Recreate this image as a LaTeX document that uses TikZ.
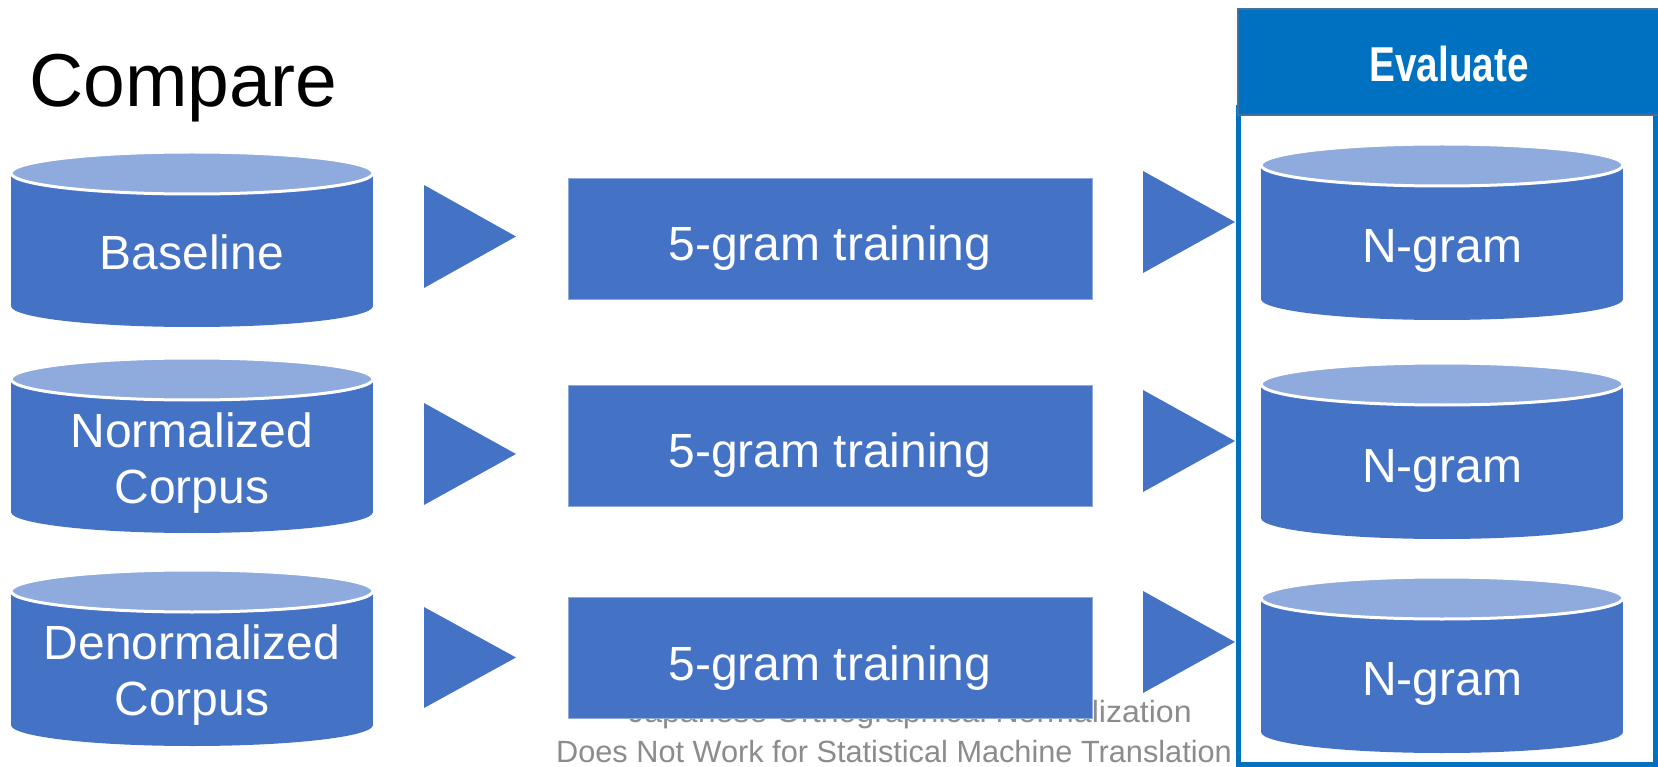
\documentclass[tikz,border=0pt]{standalone}
\usepackage{fontspec}
\setmainfont{Liberation Sans}

\definecolor{bodyblue}{HTML}{4472C4}
\definecolor{capblue}{HTML}{8FAADC}
\definecolor{evalblue}{HTML}{0070C0}
\definecolor{evaledge}{HTML}{41719C}
\definecolor{notegray}{HTML}{8C8C8C}

% database drum: centre x, top y, bottom y
\newcommand{\database}[3]{%
  \fill[bodyblue] (#1-181,#2+21) rectangle (#1+181,#3-21);
  \fill[bodyblue] (#1,#3-21) ellipse [x radius=181, y radius=21];
  \filldraw[fill=capblue, draw=white, line width=3pt] (#1,#2+21) ellipse [x radius=181, y radius=21];
}
% right-pointing triangle: left x, top y, bottom y
\newcommand{\flowtri}[3]{%
  \fill[bodyblue] (#1,#2) -- (#1+92,{(#2+#3)/2}) -- (#1,#3) -- cycle;
}

\tikzset{
  dblabel/.style={text=white, inner sep=0pt, align=center,
    font=\fontsize{48}{56}\selectfont},
  ngramlabel/.style={text=white, inner sep=0pt, font=\fontsize{48}{56}\selectfont},
  trainbox/.style={fill=bodyblue, draw=capblue, line width=0.8pt,
    minimum width=524pt, minimum height=121pt, inner sep=0pt,
    text=white, text height=44pt, text depth=0pt,
    font=\fontsize{48}{56}\selectfont},
  evalbox/.style={fill=evalblue, draw=evaledge, line width=1.5pt,
    minimum width=422pt, minimum height=106pt, inner sep=0pt,
    text=white, text height=40pt, text depth=0pt,
    font=\fontsize{49}{56}\selectfont\bfseries},
  notetext/.style={text=notegray, inner sep=0pt, align=center,
    font=\fontsize{30.7}{40}\selectfont},
}

\begin{document}
\begin{tikzpicture}[x=1pt, y=-1pt]
\useasboundingbox (0,0) rectangle (1658,767);
\fill[white] (0,0) rectangle (1658,767);

% heading
\node[anchor=base west, inner sep=0pt, font=\fontsize{75}{84}\selectfont] (title) at (29,107) {Compare};

% corpora
\database{192}{152}{327}
\database{192}{358}{533}
\database{192}{570}{746}
\node[dblabel, anchor=base] (base) at (192,270) {Baseline};
\node[dblabel] (norm) at (192,463) {Normalized\\Corpus};
\node[dblabel] (denorm) at (192,675) {Denormalized\\Corpus};

% step arrows
\flowtri{424}{185}{288}
\flowtri{424}{403}{505}
\flowtri{424}{607}{708}
\flowtri{1143}{171}{273}
\flowtri{1143}{390}{492}
\flowtri{1143}{591}{693}

% source note, partly hidden behind the last training box
\node[notetext] (note) at (894,732) {\hspace*{32pt}\scalebox{1.045}[1]{Japanese Orthographical Normalization}\\Does Not Work for Statistical Machine Translation};

% training steps
\node[trainbox] (train1) at (830,238.5) {5-gram training};
\node[trainbox] (train2) at (830,445.5) {5-gram training};
\node[trainbox] (train3) at (830,658) {5-gram training};

% resulting models
\database{1442}{144}{320}
\database{1442}{363}{539}
\database{1442}{577}{753}
\node[ngramlabel, anchor=base] (ngram1) at (1442,263) {N-gram};
\node[ngramlabel, anchor=base] (ngram2) at (1442,482) {N-gram};
\node[ngramlabel, anchor=base] (ngram3) at (1442,695) {N-gram};

% evaluation frame and header
\draw[evalblue, line width=5pt] (1238,108) rectangle (1655,764);
\node[evalbox] (eval) at (1449,62) {\scalebox{0.79}[1]{Evaluate}};
\end{tikzpicture}
\end{document}
